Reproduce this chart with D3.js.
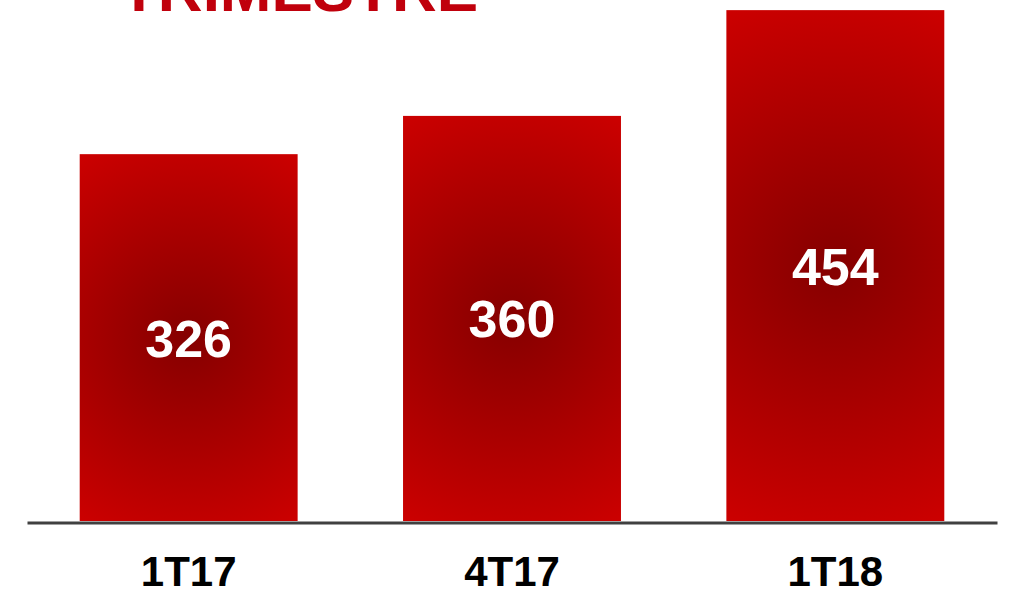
<!DOCTYPE html>
<html>
<head>
<meta charset="utf-8">
<script src="https://cdn.jsdelivr.net/npm/d3@7"></script>
<style>
  html, body { margin: 0; padding: 0; background: #ffffff; }
  svg { display: block; }
</style>
</head>
<body>
<svg id="chart" width="1028" height="591"></svg>
<script>
const categories = ["1T17", "4T17", "1T18"];
const values = [326, 360, 454];
const titleText = "TRIMESTRE";

const svg = d3.select("#chart");
const font = "'Liberation Sans', Arial, sans-serif";

const x = d3.scaleBand()
  .domain(categories)
  .range([27, 997])
  .paddingInner(0.326)
  .paddingOuter(0.163);

const y = d3.scaleLinear()
  .domain([0, 463])
  .range([521, 0]);

const data = categories.map((c, i) => ({ c, v: values[i], id: "g" + i }));

const defs = svg.append("defs");
const grads = defs.selectAll("radialGradient")
  .data(data)
  .join("radialGradient")
  .attr("id", d => d.id)
  .attr("gradientUnits", "userSpaceOnUse")
  .attr("cx", d => x(d.c) + x.bandwidth() / 2)
  .attr("cy", d => (y(d.v) + y(0)) / 2)
  .attr("r", d => Math.hypot(x.bandwidth() / 2, (y(0) - y(d.v)) / 2));
grads.append("stop").attr("offset", "0%").attr("stop-color", "#850000");
grads.append("stop").attr("offset", "100%").attr("stop-color", "#cc0000");

// title (partially cut off at top)
svg.append("text")
  .attr("x", 120)
  .attr("y", 11)
  .attr("font-family", font)
  .attr("font-weight", "bold")
  .attr("font-size", 62)
  .attr("fill", "#c0000c")
  .text(titleText);

svg.selectAll("rect.bar")
  .data(data)
  .join("rect")
  .attr("class", "bar")
  .attr("x", d => x(d.c))
  .attr("y", d => y(d.v))
  .attr("width", x.bandwidth())
  .attr("height", d => y(0) - y(d.v))
  .attr("fill", d => `url(#${d.id})`);

svg.selectAll("text.val")
  .data(data)
  .join("text")
  .attr("class", "val")
  .attr("x", d => x(d.c) + x.bandwidth() / 2)
  .attr("y", d => (y(d.v) + y(0)) / 2 + 19)
  .attr("text-anchor", "middle")
  .attr("font-family", font)
  .attr("font-weight", "bold")
  .attr("font-size", 52)
  .attr("fill", "#ffffff")
  .text(d => d.v);

// axis
const axis = d3.axisBottom(x).tickSize(0).tickPadding(0);
const gAxis = svg.append("g")
  .attr("transform", `translate(0, ${y(0) + 1.5})`)
  .call(axis);
gAxis.select(".domain")
  .attr("stroke", "#404040")
  .attr("stroke-width", 3);
gAxis.selectAll(".tick text")
  .attr("y", 63)
  .attr("dy", 0)
  .attr("font-family", font)
  .attr("font-weight", "bold")
  .attr("font-size", 42)
  .attr("fill", "#000000");
</script>
</body>
</html>
